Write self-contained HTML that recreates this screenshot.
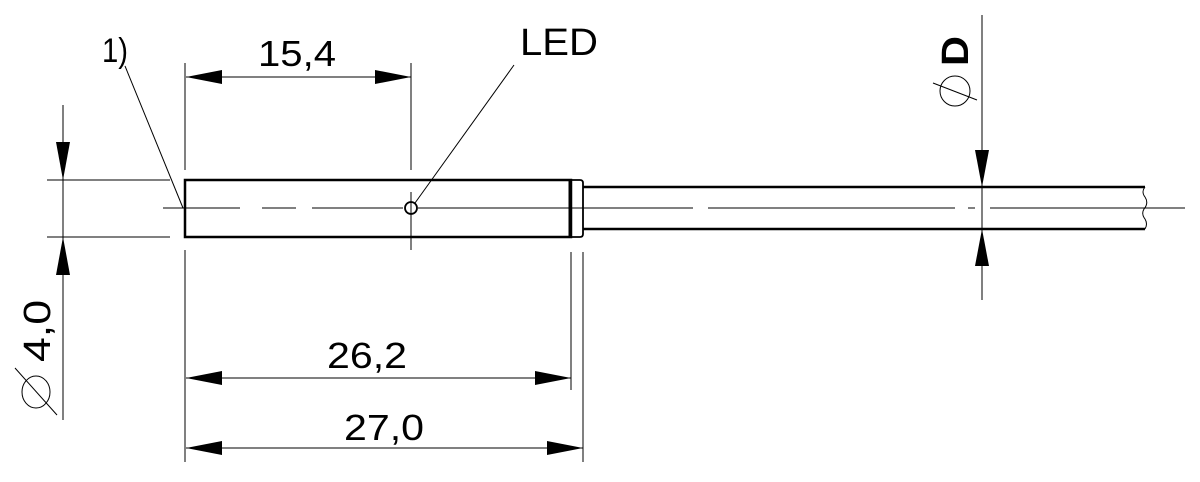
<!DOCTYPE html>
<html><head><style>body{margin:0;background:#fff}svg{display:block}text{font-family:"Liberation Sans",Arial,sans-serif;fill:#000}</style></head>
<body>
<svg width="1200" height="482" viewBox="0 0 1200 482" xmlns="http://www.w3.org/2000/svg">
<g stroke="#000" fill="none" stroke-width="1">
<path d="M163 208 H240 M262 208 H296 M312 208 H403 M418 208 H693 M708 208 H955 M968 208 H975 M990 208 H1185"/>
<rect x="185" y="180" width="386" height="57" stroke-width="2.5"/>
<path d="M571 180 H580 Q583 180 583 183 V234 Q583 237 580 237 H571" stroke-width="1.8"/>
<line x1="570" y1="180" x2="570" y2="237" stroke-width="3"/>
<path d="M583 187 H1145 M583 229 H1145" stroke-width="2.5"/>
<path d="M1145 187 q-4 5 0 10 q4 6 -1 12 q-3 5 1 10 q3 5 0 10"/>
<circle cx="411" cy="208" r="6" stroke-width="1.8"/>
<line x1="415" y1="203" x2="514" y2="65"/>
<line x1="125" y1="66" x2="183" y2="208"/>
<path d="M185 63 V170 M185 250 V462 M411 63 V170 M411 192 V250 M571 252 V390 M583 252 V462"/>
<path d="M47 180 H170 M47 237 H170"/>
<path d="M63 105 V420"/>
<path d="M982 15 V300"/>
<path d="M186 77 H411 M186 378 H571 M186 448 H583"/>
</g>
<g fill="#000">
<polygon points="186,77 222,70 222,84"/><polygon points="411,77 375,70 375,84"/>
<polygon points="186,378 222,371 222,385"/><polygon points="571,378 535,371 535,385"/>
<polygon points="186,448 222,441 222,455"/><polygon points="583,448 547,441 547,455"/>
<polygon points="63,180 56,142 70,142"/><polygon points="63,237 56,275 70,275"/>
<polygon points="982,187 975,150 989,150"/><polygon points="982,229 975,266 989,266"/>
</g>
<text x="102" y="62" font-size="34" textLength="26" lengthAdjust="spacingAndGlyphs">1)</text>
<text x="258" y="66" font-size="36" textLength="78" lengthAdjust="spacingAndGlyphs">15,4</text>
<text x="520" y="55" font-size="38" textLength="78" lengthAdjust="spacingAndGlyphs">LED</text>
<text x="327" y="368" font-size="36" textLength="80" lengthAdjust="spacingAndGlyphs">26,2</text>
<text x="344" y="440" font-size="36" textLength="80" lengthAdjust="spacingAndGlyphs">27,0</text>
<g transform="translate(50,362) rotate(-90)">
<text x="0" y="0" font-size="38" textLength="62" lengthAdjust="spacingAndGlyphs">4,0</text>
</g>
<g stroke="#000" fill="none" stroke-width="1">
<ellipse cx="36" cy="392" rx="14" ry="16"/><line x1="15" y1="368" x2="57" y2="415"/>
<circle cx="955" cy="91" r="15"/><line x1="933" y1="83" x2="977" y2="100"/>
</g>
<g transform="translate(968,66) rotate(-90)">
<text x="0" y="0" font-size="38" font-weight="bold" textLength="30" lengthAdjust="spacingAndGlyphs">D</text>
</g>
</svg>
</body></html>
